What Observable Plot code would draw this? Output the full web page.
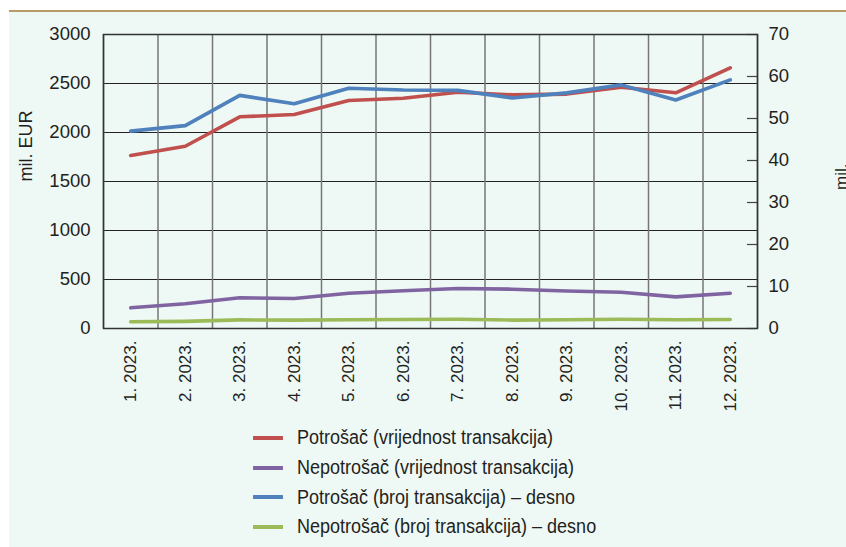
<!DOCTYPE html>
<html>
<head>
<meta charset="utf-8">
<script src="https://cdn.jsdelivr.net/npm/d3@7"></script>
<script src="https://cdn.jsdelivr.net/npm/@observablehq/plot@0.6"></script>
<style>
  html, body { margin: 0; padding: 0; background: #ffffff; width: 846px; height: 547px; overflow: hidden; }
  #panel { position: absolute; left: 9px; top: 10px; width: 837px; height: 537px; background: #eef8f4; border-top: 2px solid #b69b64; }
  #chart { position: absolute; left: 0; top: 0; }
  #chart svg { background: transparent; overflow: visible; }
  #legend { position: absolute; left: 253px; top: 423px; font-family: "Liberation Sans", Arial, sans-serif; font-size: 20px; color: #231f20; }
  .row { display: flex; align-items: center; height: 29.7px; white-space: nowrap; }
  .row svg { width: 30px; height: 6px; margin-right: 14px; flex: none; }
  .row span { display: inline-block; transform: scaleX(0.9); transform-origin: left center; }
</style>
</head>
<body>
<div id="panel"></div>
<div id="chart"></div>
<div id="legend"></div>
<script>
const months = ["1. 2023.", "2. 2023.", "3. 2023.", "4. 2023.", "5. 2023.", "6. 2023.", "7. 2023.", "8. 2023.", "9. 2023.", "10. 2023.", "11. 2023.", "12. 2023."];
const potrosacVrijednost = [1765, 1860, 2160, 2184, 2327, 2350, 2411, 2384, 2392, 2462, 2405, 2660];
const nepotrosacVrijednost = [211, 252, 313, 306, 360, 385, 408, 401, 382, 370, 323, 360];
const potrosacBroj = [47.0, 48.3, 55.5, 53.5, 57.2, 56.8, 56.7, 54.9, 56.1, 58.0, 54.4, 59.2];
const nepotrosacBroj = [1.6, 1.7, 2.05, 2.0, 2.07, 2.14, 2.2, 2.0, 2.1, 2.2, 2.07, 2.14];
const leftTicks = [0, 500, 1000, 1500, 2000, 2500, 3000];
const rightTicks = [0, 10, 20, 30, 40, 50, 60, 70];
const seriesNames = [
  "Potrošač (vrijednost transakcija)",
  "Nepotrošač (vrijednost transakcija)",
  "Potrošač (broj transakcija) – desno",
  "Nepotrošač (broj transakcija) – desno"
];
const seriesColors = ["#c0504d", "#8064a2", "#4f81bd", "#9bbb59"];

const leftMax = 3000, rightMax = 70;
const k = leftMax / rightMax;

function rows(values, name, scale) {
  return values.map((v, i) => ({idx: i + 1, month: months[i], value: v * scale, series: name}));
}
const data = [
  ...rows(potrosacVrijednost, seriesNames[0], 1),
  ...rows(nepotrosacVrijednost, seriesNames[1], 1),
  ...rows(potrosacBroj, seriesNames[2], k),
  ...rows(nepotrosacBroj, seriesNames[3], k)
];

const font = '"Liberation Sans", Arial, sans-serif';
const chart = Plot.plot({
  width: 846,
  height: 400,
  marginLeft: 103,
  marginRight: 89,
  marginTop: 34,
  marginBottom: 72,
  style: {fontFamily: font, fontSize: "18px", color: "#231f20", background: "transparent"},
  x: {type: "linear", domain: [0.5, months.length + 0.5]},
  y: {domain: [0, leftMax]},
  color: {domain: seriesNames, range: seriesColors},
  marks: [
    Plot.gridY(leftTicks, {stroke: "#222", strokeOpacity: 1, strokeWidth: 1}),
    Plot.gridX(d3.range(0.5, months.length + 1, 1), {stroke: "#777", strokeOpacity: 1, strokeWidth: 1.5}),
    Plot.tickY(rightTicks.map(v => v * k), {y: d => d, insetLeft: 644, stroke: "#444", strokeWidth: 1.2}),
    Plot.lineY(data, {x: "idx", y: "value", z: "series", stroke: "series", strokeWidth: 3.6, strokeLinejoin: "round"}),
    Plot.frame({stroke: "#333", strokeWidth: 1.5}),
    Plot.axisY(leftTicks, {anchor: "left", tickSize: 0, tickPadding: 13, fontSize: 18.5, label: null, tickFormat: d => String(d)}),
    Plot.axisY(rightTicks.map(v => v * k), {anchor: "right", tickSize: 0, tickPadding: 11, fontSize: 18.5, label: null, tickFormat: d => String(Math.round(d / k))}),
    Plot.axisX(months.map((m, i) => i + 1), {anchor: "bottom", tickSize: 0, tickPadding: 12, tickRotate: -90, fontSize: 17, label: null, tickFormat: d => months[d - 1]}),
    Plot.text(["mil. EUR"], {frameAnchor: "left", dx: -77, rotate: -90, fontSize: 18, fill: "#231f20"}),
    Plot.text(["mil."], {frameAnchor: "right", dx: 89, dy: -18, rotate: -90, lineAnchor: "bottom", fontSize: 17, fill: "#231f20"})
  ]
});
document.getElementById("chart").appendChild(chart);

const legend = document.getElementById("legend");
seriesNames.forEach((name, i) => {
  const row = document.createElement("div");
  row.className = "row";
  row.innerHTML = `<svg viewBox="0 0 30 6"><line x1="1" y1="3" x2="29" y2="3" stroke="${seriesColors[i]}" stroke-width="4" stroke-linecap="round"/></svg><span>${name}</span>`;
  legend.appendChild(row);
});
</script>
</body>
</html>
